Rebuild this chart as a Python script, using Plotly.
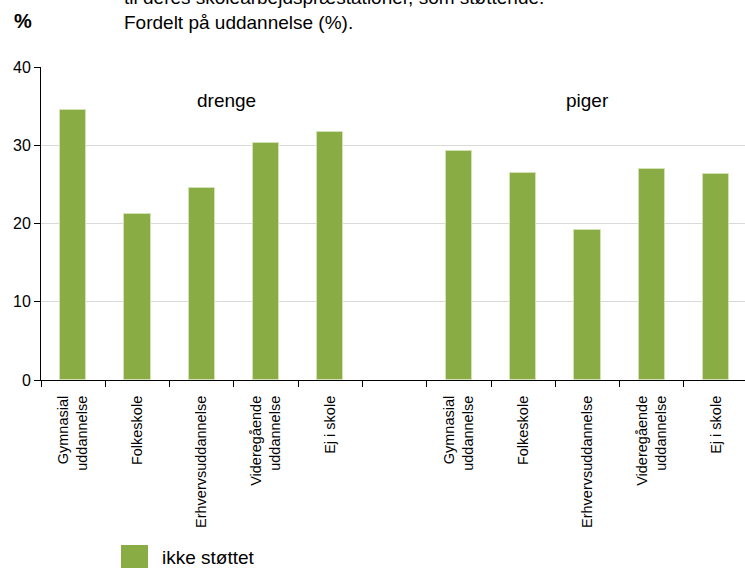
import plotly.graph_objects as go

categories = ["Gymnasial<br>uddannelse", "Folkeskole", "Erhvervsuddannelse",
              "Videregående<br>uddannelse", "Ej i skole"]
groups = ["drenge", "piger"]
drenge_values = [34.5, 21.2, 24.5, 30.3, 31.7]
piger_values = [29.3, 26.4, 19.2, 27.0, 26.3]
series_name = "ikke støttet"
y_ticks = [0, 10, 20, 30, 40]
title_lines = ["til deres skolearbejdspræstationer, som støttende.",
               "Fordelt på uddannelse (%)."]

# positions: group 1 at 0..4, gap slot at 5, group 2 at 6..10
x_pos = list(range(0, 5)) + list(range(6, 11))
values = drenge_values + piger_values
labels = categories + categories

GREEN = "#8aac45"
FONT = "Liberation Sans, Arial, sans-serif"

fig = go.Figure()
fig.add_trace(go.Bar(
    x=x_pos, y=values, name=series_name, width=0.41,
    marker=dict(color=GREEN, line=dict(color="#d3e2b6", width=1)),
    showlegend=False,
))

fig.update_layout(
    width=745, height=569,
    margin=dict(l=41, r=0, t=67, b=189),
    paper_bgcolor="white", plot_bgcolor="white",
    font=dict(family=FONT, color="black"),
    bargap=0,
)
fig.update_xaxes(
    range=[-0.5, 10.45],
    tickmode="array", tickvals=x_pos, ticktext=labels,
    tickangle=-90, tickfont=dict(size=14.5, family=FONT),
    ticks="", ticklabelstandoff=9,
    minor=dict(tickmode="array", tickvals=[i - 0.5 for i in range(12)],
               ticks="outside", ticklen=6, tickcolor="black", tickwidth=1),
    showline=True, linecolor="black", linewidth=1,
    showgrid=False, zeroline=False, fixedrange=True,
)
fig.update_yaxes(
    range=[0, 40], tickvals=y_ticks,
    tickfont=dict(size=16, family=FONT),
    ticks="outside", ticklen=6, tickcolor="black",
    showline=True, linecolor="black", linewidth=1,
    showgrid=True, gridcolor="#d9d9d9", gridwidth=1,
    zeroline=False, fixedrange=True,
)

# group labels
fig.add_annotation(x=2.38, y=35.7, xref="x", yref="y", text=groups[0],
                   showarrow=False, font=dict(size=19, family=FONT))
fig.add_annotation(x=8.0, y=35.7, xref="x", yref="y", text=groups[1],
                   showarrow=False, font=dict(size=19, family=FONT))

# title text (first line partly cut off at top, as in the source)
fig.add_annotation(x=122, y=569 - 35, xref="paper", yref="paper",
                   text="<br>".join(title_lines), showarrow=False,
                   xanchor="left", yanchor="bottom", align="left",
                   font=dict(size=19, family=FONT))
# "%" unit label
fig.add_annotation(x=12, y=569 - 34, xref="paper", yref="paper",
                   text="<b>%</b>", showarrow=False,
                   xanchor="left", yanchor="bottom",
                   font=dict(size=20, family=FONT))

# legend (swatch + text)
fig.add_shape(type="rect", xref="paper", yref="paper",
              x0=121, x1=148, y0=1, y1=24,
              fillcolor=GREEN, line=dict(width=0))
fig.add_annotation(x=160, y=12, xref="paper", yref="paper", text=series_name,
                   showarrow=False, xanchor="left", yanchor="middle",
                   font=dict(size=19, family=FONT))

# convert paper pixel coords for shapes/annotations given in pixels
W, H = 745, 569
l, r, t, b = 41, 0, 67, 189
pw, ph = W - l - r, H - t - b
for a in fig.layout.annotations:
    if a.xref == "paper":
        a.x = (a.x - l) / pw
        a.y = (a.y - b) / ph
for s in fig.layout.shapes:
    s.x0 = (s.x0 - l) / pw
    s.x1 = (s.x1 - l) / pw
    s.y0 = (s.y0 - b) / ph
    s.y1 = (s.y1 - b) / ph

fig.write_html("out.html",
               config={"displayModeBar": False},
               post_script="document.body.style.margin='0';"
                           "document.body.style.overflow='hidden';")
